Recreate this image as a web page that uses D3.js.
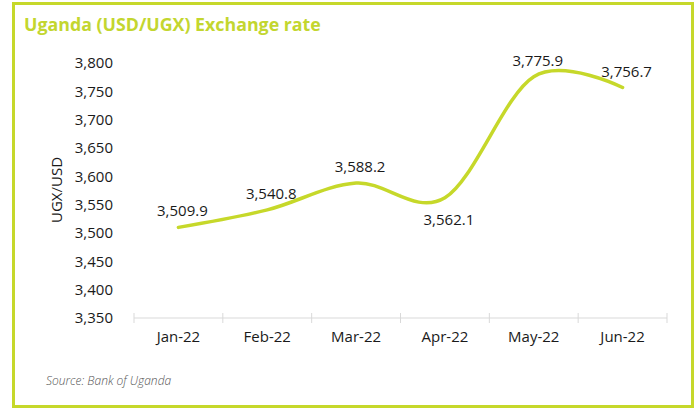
<!DOCTYPE html>
<html>
<head>
<meta charset="utf-8">
<script src="https://cdn.jsdelivr.net/npm/d3@7"></script>
<style>
  html, body { margin: 0; padding: 0; background: #fff; }
  svg { display: block; font-family: "Open Sans", sans-serif; }
</style>
</head>
<body>
<svg id="chart" width="699" height="409"></svg>
<script>
// Monthly USD/UGX exchange rate, 2022
const months = ["Jan-22", "Feb-22", "Mar-22", "Apr-22", "May-22", "Jun-22"];
const rates = [3509.9, 3540.8, 3588.2, 3562.1, 3775.9, 3756.7];
const labelBelow = [false, false, false, true, false, false];
const yTicks = [3350, 3400, 3450, 3500, 3550, 3600, 3650, 3700, 3750, 3800];

const green = "#c6d82a";
const svg = d3.select("#chart");

// Frame
svg.append("rect")
  .attr("x", 13.5).attr("y", 3.5)
  .attr("width", 679).attr("height", 403)
  .attr("fill", "none").attr("stroke", green).attr("stroke-width", 3);

// Title
svg.append("text")
  .attr("x", 24).attr("y", 31)
  .attr("fill", "#c3d62f")
  .attr("font-size", 17.8).attr("font-weight", 700)
  .text("Uganda (USD/UGX) Exchange rate");

const x = d3.scaleBand().domain(months).range([134, 667]);
const y = d3.scaleLinear().domain([3350, 3800]).range([318, 63]);

// Y axis labels (no axis line)
const yAxis = d3.axisLeft(y).tickValues(yTicks).tickFormat(d3.format(",")).tickSize(0).tickPadding(0);
const gy = svg.append("g").attr("transform", "translate(113,0)").call(yAxis);
gy.select(".domain").remove();
gy.selectAll("text").attr("font-size", 15).attr("fill", "#1a1a1a").attr("font-family", "Open Sans, sans-serif");

// X axis with light-gray line and boundary ticks
svg.append("line")
  .attr("x1", 134).attr("x2", 667).attr("y1", 318).attr("y2", 318)
  .attr("stroke", "#d9d9d9").attr("stroke-width", 1);
const bounds = months.map(m => x(m)).concat([x.range()[1]]);
svg.selectAll(".xtick").data(bounds).join("line")
  .attr("class", "xtick")
  .attr("x1", d => d).attr("x2", d => d)
  .attr("y1", 313).attr("y2", 323)
  .attr("stroke", "#d9d9d9").attr("stroke-width", 1);
svg.selectAll(".xlabel").data(months).join("text")
  .attr("class", "xlabel")
  .attr("x", d => x(d) + x.bandwidth() / 2)
  .attr("y", 342)
  .attr("text-anchor", "middle")
  .attr("font-size", 15).attr("fill", "#1a1a1a")
  .text(d => d);

// Y axis title
svg.append("text")
  .attr("transform", "translate(62,190) rotate(-90)")
  .attr("text-anchor", "middle")
  .attr("font-size", 15).attr("fill", "#1a1a1a")
  .text("UGX/USD");

// Smoothed line
const pts = months.map((m, i) => [x(m) + x.bandwidth() / 2, y(rates[i])]);
svg.append("path")
  .attr("d", d3.line().curve(d3.curveCardinal.tension(0))(pts))
  .attr("fill", "none").attr("stroke", green)
  .attr("stroke-width", 3.5).attr("stroke-linecap", "round");

// Data labels
svg.selectAll(".vlabel").data(months).join("text")
  .attr("class", "vlabel")
  .attr("x", (d, i) => pts[i][0] + 4)
  .attr("y", (d, i) => labelBelow[i] ? pts[i][1] + 27 : pts[i][1] - 11)
  .attr("text-anchor", "middle")
  .attr("font-size", 15).attr("fill", "#1a1a1a")
  .text((d, i) => d3.format(",.1f")(rates[i]));

// Source note
svg.append("text")
  .attr("x", 46).attr("y", 385)
  .attr("font-size", 12).attr("font-style", "italic").attr("font-weight", 300)
  .attr("fill", "#555")
  .text("Source: Bank of Uganda");
</script>
</body>
</html>
